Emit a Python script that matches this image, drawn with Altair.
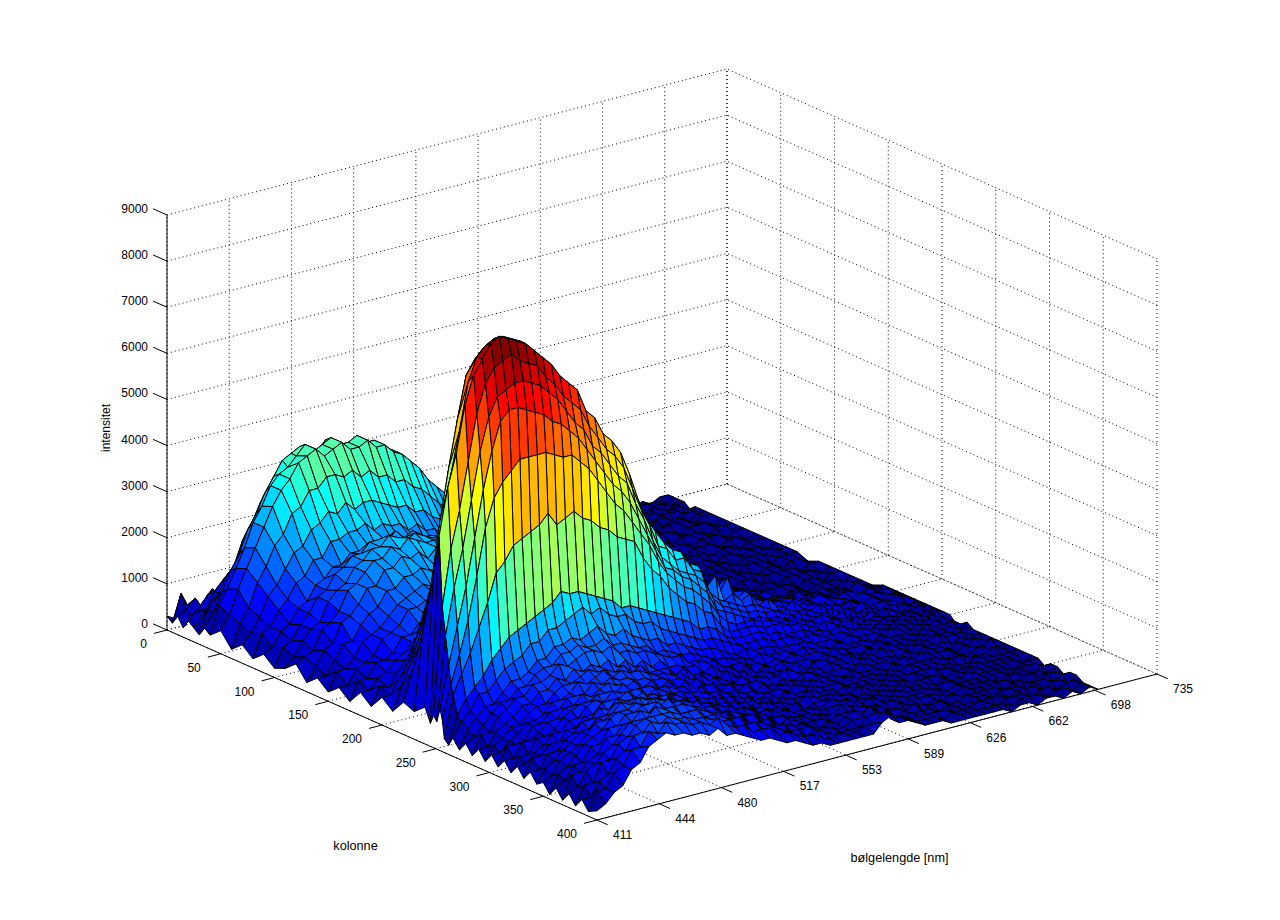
import altair as alt
import numpy as np
import pandas as pd

wave = list(range(411, 702, 5))
cols = [0,5,10,15,20,25,30,35,40,50,60,70,80,90,100,110,120,130,140,150,160,170,180,190,200,210,220,230,240,
        245,248,251,254,256,258,262,266,272,278,284,290,296,302,308,314,320,326,332,338,344,350,356,362,368,
        374,380,386,392,400]

# intensity in hundreds of counts, one list per column (kolonne), one value per wavelength
c000=[3,2,4,5,3, 5,6,4,6,7, 5,6,4,5,6, 4,5,3,4,3, 4,2,3,3,2, 3,2,2,1,2, 2,1,1,2,1, 1,0,1,1,0, 1,1,0,1,1, 0,1,1,0,1, 1,0,1,1,0, 1,0,1,1]
c005=[2,8,4,3,6, 4,7,5,7,5, 6,4,6,5,4, 5,3,4,4,2, 3,3,2,3,2, 2,1,2,2,1, 1,2,1,1,0, 1,1,0,1,1, 0,1,1,1,0, 1,1,0,1,1, 0,1,1,0,1, 1,1,0,1]
c010=[4,5,7,4,8, 6,8,7,10,8, 9,7,9,8,7, 6,7,5,6,5, 5,4,4,3,4, 3,2,3,2,2, 2,1,2,1,1, 1,1,1,0,1, 1,0,1,1,1, 0,1,1,0,1, 1,0,1,1,0, 1,1,0,1]
c015=[2,4,6,8,6, 10,10,13,12,15, 14,16,14,15,13, 14,12,11,12,10, 9,9,8,8,6, 6,5,5,4,4, 3,3,3,2,2, 2,1,1,1,1, 1,0,1,1,1, 1,0,1,1,0, 1,1,1,0,1, 1,0,1,1]
c020=[4,6,5,9,11, 12,15,16,19,20, 23,22,24,22,23, 21,21,19,19,18, 16,16,14,13,12, 11,9,9,8,7, 6,5,4,4,3, 3,2,2,2,1, 1,1,1,1,1, 0,1,1,1,0, 1,1,0,1,1, 0,1,1,0]
c025=[3,5,8,9,13, 15,19,22,26,27, 30,30,31,30,31, 30,30,28,27,26, 25,23,22,19,18, 15,14,13,11,10, 9,8,7,5,4, 4,3,3,2,2, 1,2,1,1,1, 1,0,1,1,1, 0,1,1,0,1, 1,1,0,1]
c030=[2,7,9,13,15, 20,23,27,30,33, 34,35,36,35,35, 35,35,34,34,31, 30,29,27,24,22, 19,18,16,14,13, 11,10,8,6,5, 4,4,3,2,2, 2,1,2,1,1, 1,1,1,0,1, 1,1,0,1,1, 0,1,1,1]
c035=[4,7,11,15,18, 23,26,30,33,36, 37,38,37,36,38, 36,36,36,35,34, 33,32,30,27,24, 22,20,18,16,14, 12,11,9,7,6, 5,4,3,3,2, 2,2,1,1,1, 1,1,0,1,1, 1,1,1,0,1, 1,0,1,1]
c040=[3,9,12,16,20, 25,28,32,34,35, 37,39,37,38,39, 37,37,38,36,36, 34,33,31,29,26, 24,22,20,18,16, 14,12,10,8,7, 5,4,4,3,3, 2,2,2,1,1, 1,1,1,1,0, 1,1,0,1,1, 1,0,1,1]
c050=[5,8,13,17,21, 25,29,32,34,37, 38,39,37,38,39, 37,37,38,36,36, 34,33,31,29,26, 24,22,20,17,16, 14,12,10,8,6, 5,4,4,3,2, 2,2,1,2,1, 1,1,1,0,1, 1,1,1,0,1, 1,1,0,1]
c060=[2,7,10,15,18, 22,24,28,29,32, 32,34,34,33,34, 32,33,31,31,29, 29,27,26,24,22, 20,18,16,15,13, 12,11,9,7,6, 5,4,3,3,2, 2,2,1,1,1, 1,1,0,1,1, 1,0,1,1,1, 0,1,1,1]
c070=[4,6,9,13,15, 18,21,22,25,26, 28,27,29,27,28, 28,27,26,25,25, 23,23,21,20,18, 17,15,14,12,11, 10,9,7,6,5, 4,3,3,2,2, 2,1,2,1,1, 1,1,1,0,1, 1,1,0,1,1, 1,0,1,1]
c080=[2,7,8,11,13, 16,17,20,20,23, 23,24,24,25,23, 24,23,23,21,22, 20,20,18,17,15, 14,13,12,10,10, 9,8,6,5,4, 4,3,2,2,2, 1,2,1,1,1, 1,0,1,1,1, 0,1,1,1,0, 1,1,0,1]
c090=[4,5,8,9,12, 13,16,17,19,19, 21,21,22,21,22, 21,20,21,19,18, 18,17,15,15,13, 12,12,10,9,9, 7,7,5,5,4, 3,3,2,2,1, 2,1,1,1,1, 1,1,0,1,1, 1,1,0,1,1, 0,1,1,1]
c100=[2,6,7,10,12, 15,16,19,20,22, 22,24,24,23,25, 23,24,22,22,20, 19,19,17,16,14, 13,12,11,9,9, 8,7,6,5,4, 3,3,2,2,2, 1,1,1,2,1, 1,0,1,1,1, 1,0,1,1,0, 1,1,0,1]
c110=[3,5,8,10,11, 15,17,18,21,22, 24,24,26,25,24, 25,24,23,23,21, 20,20,18,16,15, 14,12,12,10,10, 8,7,6,5,4, 4,3,3,2,2, 1,2,1,1,1, 1,1,1,0,1, 1,1,0,1,1, 1,0,1,1]
c120=[5,6,7,11,12, 14,18,19,21,23, 23,25,24,26,25, 24,24,24,22,22, 20,19,18,17,15, 13,13,11,11,9, 8,8,6,5,5, 4,3,2,3,2, 2,1,1,1,1, 1,1,0,1,1, 1,0,1,1,1, 0,1,1,1]
c130=[2,5,8,9,13, 14,16,19,19,22, 22,24,23,24,22, 24,22,22,20,21, 18,18,16,15,13, 13,11,10,9,9, 7,7,5,5,4, 4,3,2,2,2, 1,1,2,1,1, 1,0,1,1,1, 1,1,0,1,1, 0,1,1,0]
c140=[4,4,7,10,10, 13,15,16,19,19, 21,21,22,21,21, 21,20,20,19,18, 17,16,15,14,13, 11,11,9,9,8, 7,6,5,4,4, 3,3,2,2,2, 1,1,1,1,1, 1,1,1,0,1, 1,0,1,1,1, 1,0,1,1]
c150=[2,6,6,8,11, 12,13,15,17,18, 19,20,19,21,19, 20,19,18,18,17, 15,15,14,12,12, 11,10,9,8,7, 6,6,4,4,3, 3,2,2,1,2, 1,1,1,1,0, 1,1,1,1,0, 1,1,0,1,1, 1,1,0,1]
c160=[4,4,7,8,9, 12,13,14,17,17, 18,19,19,18,19, 18,18,17,16,16, 14,14,13,12,10, 10,9,8,7,7, 6,5,4,4,3, 3,2,2,1,1, 2,1,1,0,1, 1,1,1,0,1, 1,1,1,0,1, 1,0,1,1]
c170=[2,6,6,9,9, 10,13,13,15,16, 17,18,17,18,17, 17,16,16,15,14, 14,12,12,10,10, 9,8,7,7,6, 5,5,4,3,3, 3,2,2,2,1, 1,1,1,1,1, 0,1,1,1,1, 0,1,1,0,1, 1,1,0,1]
c180=[5,5,7,8,10, 11,13,15,17,19, 20,21,21,22,21, 20,20,19,18,17, 16,15,14,13,12, 10,10,9,8,7, 6,5,4,4,3, 2,2,2,1,2, 1,1,0,1,1, 1,1,0,1,2, 1,1,1,0,1, 1,2,1,1]
c190=[3,7,6,9,11, 14,17,21,25,29, 30,32,33,34,32, 32,30,30,28,27, 25,24,22,20,18, 16,14,13,12,10, 9,8,6,5,4, 3,3,2,2,2, 2,1,2,1,1, 2,1,1,1,2, 1,1,1,2,1, 1,1,1,1]
c200=[6,6,9,12,17, 23,28,36,41,46, 48,49,50,50,50, 49,48,47,45,44, 42,40,37,34,29, 26,23,22,19,18, 16,14,13,12,11, 12,11,11,10,9, 9,8,7,7,6, 6,5,5,6,4, 4,5,3,4,3, 4,3,2,2]
c210=[4,9,13,18,25, 33,42,50,57,62, 66,67,68,67,67, 65,63,61,59,56, 53,51,47,43,37, 33,29,28,25,24, 21,20,16,15,14, 13,13,12,11,10, 10,9,8,9,7, 7,6,7,5,6, 5,4,5,4,3, 4,3,3,2]
c220=[7,13,19,28,39, 49,59,69,74,76, 77,77,77,76,74, 72,70,67,63,60, 56,54,50,46,39, 35,31,30,27,26, 23,22,18,17,14, 14,13,13,12,11, 11,10,9,9,8, 8,7,6,7,6, 5,6,4,5,4, 4,3,3,2]
c230=[6,23,33,46,57, 67,76,79,81,81, 81,80,79,76,74, 71,69,66,61,59, 55,54,50,46,40, 36,32,31,28,27, 24,23,19,17,15, 16,13,14,12,11, 11,10,10,8,9, 7,7,6,7,5, 6,5,4,5,4, 3,4,3,2]
c240=[8,36,47,57,66, 76,81,83,84,84, 83,82,80,78,75, 72,70,68,63,60, 57,55,52,47,41, 37,33,31,28,28, 25,24,20,18,16, 19,14,15,13,12, 11,11,10,9,9, 8,8,7,6,7, 6,4,5,5,3, 4,3,3,2]
c245=[5,45,55,62,72, 78,81,84,85,84, 83,82,80,78,76, 73,71,69,64,62, 58,56,53,48,42, 37,34,31,29,28, 25,24,19,21,15, 16,14,15,12,13, 11,10,11,9,8, 9,7,8,6,6, 7,5,4,5,4, 4,3,3,2]
c248=[7,30,42,50,60, 70,76,79,80,81, 79,78,77,74,72, 69,67,65,61,58, 55,53,50,45,40, 36,31,30,27,27, 24,23,18,16,15, 14,13,13,12,11, 10,10,9,9,8, 7,8,6,7,5, 6,4,5,4,3, 4,3,2,2]
c251=[6,24,34,42,52, 62,69,73,74,75, 75,74,73,71,69, 66,63,61,57,55, 52,49,47,42,38, 33,29,27,25,24, 23,21,17,15,14, 13,12,12,11,11, 10,9,9,8,7, 8,6,7,5,6, 5,4,5,4,3, 3,4,2,2]
c254=[9,18,26,34,44, 54,62,68,70,70, 69,68,67,65,64, 62,60,57,54,51, 48,46,43,39,35, 31,27,26,24,23, 21,19,15,14,13, 12,11,11,10,10, 9,9,8,7,8, 7,6,6,5,5, 6,4,4,3,4, 3,3,2,2]
c256=[7,14,20,27,36, 46,52,55,57,59, 59,59,59,58,57, 57,55,53,50,47, 44,42,39,36,33, 29,26,24,22,21, 19,17,14,12,11, 11,11,10,10,9, 9,8,8,7,6, 7,6,5,6,4, 5,4,4,3,4, 3,2,3,2]
c258=[3,12,16,20,25, 30,36,38,41,42, 43,44,46,43,44, 45,43,42,40,39, 37,36,35,31,28, 26,23,21,19,18, 16,15,12,10,10, 10,10,9,9,9, 8,8,7,6,7, 6,5,6,4,5, 4,4,3,4,3, 3,2,3,2]
c262=[2,8,11,13,15, 18,20,22,23,24, 25,26,27,29,28, 28,27,26,25,24, 22,22,21,20,19, 18,17,16,15,13, 13,12,10,9,9, 9,9,8,8,7, 7,7,6,6,5, 6,5,4,5,4, 4,3,4,3,3, 2,3,2,2]
c266=[4,7,9,12,12, 14,16,17,18,20, 20,22,22,23,24, 25,23,24,22,21, 21,19,18,18,16, 15,14,13,12,11, 11,10,9,8,8, 8,8,7,7,7, 6,6,6,5,5, 5,4,5,4,4, 3,4,3,3,2, 3,2,2,1]
c272=[2,6,8,10,10, 12,14,14,15,17, 17,19,19,20,19, 20,21,19,18,19, 17,16,15,15,13, 13,12,11,10,10, 9,8,7,8,7, 7,7,6,6,6, 6,5,5,5,4, 5,4,4,4,3, 4,3,3,2,3, 2,2,2,1]
c278=[4,5,7,9,11, 11,13,13,15,16, 16,18,18,19,18, 18,19,17,17,16, 15,15,13,13,12, 11,11,10,9,8, 8,7,7,6,7, 6,6,6,5,6, 5,5,4,5,4, 4,4,3,4,3, 3,3,2,3,2, 2,2,1,2]
c284=[2,6,6,9,10, 12,12,14,14,15, 17,16,17,18,18, 17,18,16,16,15, 15,14,13,12,12, 10,10,9,9,7, 7,7,6,6,5, 6,5,6,5,5, 5,4,5,4,4, 4,3,4,3,3, 3,2,3,2,2, 2,1,2,1]
c290=[4,4,7,8,9, 11,11,13,13,15, 14,16,15,16,15, 16,14,15,13,14, 12,13,11,11,10, 10,8,9,7,8, 6,7,5,6,5, 6,5,5,5,4, 5,4,4,4,3, 4,3,4,3,3, 2,3,2,3,2, 2,2,1,1]
c296=[2,5,6,8,8, 10,11,11,13,14, 14,15,16,15,15, 14,15,13,14,12, 12,12,10,11,9, 9,8,7,8,6, 7,5,6,5,5, 5,6,4,5,5, 4,4,5,3,4, 3,4,3,3,2, 3,2,2,2,1, 2,1,2,1]
c302=[4,4,6,7,9, 9,10,12,12,13, 15,14,15,16,14, 15,14,14,13,12, 12,11,11,9,10, 8,8,7,6,7, 5,6,5,5,6, 5,4,5,4,5, 4,4,3,4,3, 3,3,2,3,2, 3,2,2,1,2, 1,2,1,1]
c308=[2,6,6,6,9, 9,11,11,13,13, 13,15,14,15,14, 14,13,13,12,12, 11,11,9,10,8, 8,7,7,6,6, 6,5,4,5,4, 5,5,4,4,4, 4,3,4,3,3, 3,2,3,2,3, 2,2,2,1,2, 1,1,2,1]
c314=[4,4,7,7,8, 10,10,12,12,14, 13,14,15,14,13, 14,12,13,11,12, 10,11,9,9,9, 7,8,6,7,5, 6,4,5,4,5, 4,5,4,4,3, 4,3,3,3,2, 3,2,2,2,2, 2,1,2,1,1, 2,1,1,1]
c320=[2,5,5,8,8, 9,11,12,13,13, 14,14,13,15,13, 13,13,12,12,11, 11,9,10,8,8, 7,7,6,6,5, 5,5,4,5,4, 5,4,4,3,4, 3,3,3,2,3, 2,3,2,2,2, 1,2,2,1,1, 1,2,1,1]
c326=[4,4,6,7,9, 9,11,11,13,14, 13,15,14,14,14, 12,13,12,11,11, 10,10,9,9,7, 7,6,6,5,6, 4,5,4,4,5, 4,4,4,3,3, 3,3,2,3,2, 2,2,2,2,1, 2,1,1,2,1, 1,1,1,1]
c332=[2,6,6,8,8, 10,10,12,12,14, 14,14,15,13,13, 13,12,12,11,10, 10,9,9,8,8, 6,7,5,6,4, 5,4,4,5,4, 4,3,4,3,3, 3,2,3,2,2, 3,2,1,2,2, 1,1,2,1,1, 1,1,1,1]
c338=[4,4,7,7,9, 10,12,12,14,13, 15,14,14,15,13, 13,13,11,11,11, 9,10,8,8,7, 7,5,6,5,5, 4,4,5,4,4, 5,3,3,4,3, 2,3,2,3,2, 2,2,2,1,2, 1,2,1,1,1, 1,1,0,1]
c344=[2,5,6,8,9, 11,11,13,13,15, 14,15,15,14,14, 14,12,12,11,10, 10,9,9,7,7, 6,6,5,5,4, 5,3,4,4,5, 4,4,3,3,2, 3,2,3,2,2, 2,1,2,1,1, 2,1,1,1,1, 0,1,1,1]
c350=[3,4,7,8,9, 11,13,13,14,16, 15,16,15,15,14, 13,13,12,11,11, 10,9,8,8,7, 6,6,5,5,4, 4,4,3,5,4, 4,4,3,3,3, 2,3,2,2,2, 1,2,2,1,1, 1,1,1,1,0, 1,1,1,0]
c356=[1,5,6,8,10, 11,12,14,15,15, 16,15,16,15,14, 14,12,13,11,11, 9,10,8,7,7, 6,5,5,4,4, 4,3,4,4,5, 4,3,4,3,2, 3,2,2,2,1, 2,1,2,1,1, 1,1,0,1,1, 1,0,1,1]
c362=[3,4,7,7,10, 10,13,13,15,15, 16,16,15,16,14, 13,13,12,12,10, 10,9,8,8,6, 6,6,4,5,4, 3,4,3,5,4, 5,3,3,3,3, 2,2,2,2,2, 1,1,2,1,1, 1,1,1,0,1, 1,1,0,1]
c368=[1,6,6,8,9, 12,12,14,14,16, 15,17,15,15,15, 14,12,12,11,11, 9,9,9,7,7, 5,6,5,4,4, 4,3,4,4,5, 4,4,3,2,3, 2,2,1,2,1, 2,1,1,1,1, 1,0,1,1,0, 1,1,1,0]
c374=[3,4,7,8,10, 11,13,15,15,15, 17,16,16,14,14, 14,13,11,12,10, 10,8,8,8,6, 6,5,5,4,3, 4,3,4,5,4, 5,3,3,3,2, 3,1,2,2,1, 1,2,1,1,0, 1,1,1,0,1, 1,0,1,1]
c380=[1,5,5,9,9, 12,13,15,16,16, 16,16,15,15,15, 13,13,12,11,11, 9,9,8,7,7, 5,5,5,3,4, 3,3,4,4,6, 4,4,2,3,2, 2,2,1,2,1, 1,1,1,1,1, 0,1,1,1,0, 1,1,0,1]
c386=[3,3,6,7,10, 11,14,14,16,15, 16,15,15,14,14, 13,12,12,10,10, 10,8,8,7,6, 6,4,5,4,3, 3,3,3,5,5, 5,3,3,2,2, 2,2,2,1,1, 1,2,1,0,1, 1,1,0,1,1, 0,1,1,0]
c392=[1,5,5,8,9, 12,12,15,14,16, 15,15,14,14,13, 14,12,11,11,9, 9,9,7,7,6, 5,5,4,3,4, 3,3,4,4,6, 4,4,3,2,2, 2,1,2,1,1, 1,1,1,1,0, 1,1,1,0,1, 1,0,1,0]
c400=[2,3,5,6,9, 10,13,14,15,14, 14,13,13,12,13, 11,11,10,9,8, 8,7,6,6,5, 4,4,3,3,3, 3,3,3,5,6, 4,4,3,2,2, 2,1,1,1,1, 1,1,1,0,1, 1,0,1,1,0, 1,0,1,0]

rows = [c000,c005,c010,c015,c020,c025,c030,c035,c040,c050,c060,c070,c080,c090,c100,c110,c120,c130,c140,c150,
        c160,c170,c180,c190,c200,c210,c220,c230,c240,c245,c248,c251,c254,c256,c258,c262,c266,c272,c278,c284,
        c290,c296,c302,c308,c314,c320,c326,c332,c338,c344,c350,c356,c362,c368,c374,c380,c386,c392,c400]

col_ticks = [0,50,100,150,200,250,300,350,400]
wave_ticks = [411,447,483,519,555,591,627,663,699,735]
wave_labels = ["411","444","480","517","553","589","626","662","698","735"]
z_ticks = [0,1000,2000,3000,4000,5000,6000,7000,8000,9000]

F = np.array([597.0, 820.0])
L = np.array([167.0, 630.0])
R = np.array([1157.0, 674.0])
Z_PX = 415.0

def P(c, w, z=0):
    p = F + (400 - c) / 400 * (L - F) + (w - 411) / 324 * (R - F)
    return [float(p[0]), float(p[1] - z / 9000 * Z_PX)]

def line(*pts):
    return {"type": "Feature", "properties": {},
            "geometry": {"type": "LineString", "coordinates": list(pts)}}

WMIN, WMAX = 411, 735
grid = []
for w in wave_ticks:
    grid.append(line(P(0, w), P(400, w)))
    grid.append(line(P(0, w), P(0, w, 9000)))
for c in col_ticks:
    grid.append(line(P(c, WMIN), P(c, WMAX)))
    grid.append(line(P(c, WMAX), P(c, WMAX, 9000)))
for z in z_ticks:
    grid.append(line(P(0, WMIN, z), P(0, WMAX, z), P(400, WMAX, z)))

axes = [line(P(0, WMIN), P(0, WMIN, 9000)),
        line(P(0, WMIN), P(400, WMIN)),
        line(P(400, WMIN), P(400, WMAX))]
for z in z_ticks:
    axes.append(line(P(0, WMIN, z), P(-13, WMIN, z)))
for c in col_ticks:
    axes.append(line(P(c, WMIN), P(c, WMIN - 7.5)))
for w in wave_ticks:
    axes.append(line(P(400, w), P(410, w)))

quads = []
for i in range(len(cols) - 1):
    a, b = rows[i], rows[i + 1]
    n = min(len(a), len(b), len(wave))
    for j in range(n - 2, -1, -1):
        c0, c1, w0, w1 = cols[i], cols[i + 1], wave[j], wave[j + 1]
        ring = [P(c0, w0, a[j] * 100), P(c0, w1, a[j + 1] * 100),
                P(c1, w1, b[j + 1] * 100), P(c1, w0, b[j] * 100), P(c0, w0, a[j] * 100)]
        quads.append({"type": "Feature", "properties": {"z": a[j] * 100},
                      "geometry": {"type": "Polygon", "coordinates": [ring]}})

def jet(n=64):
    out = []
    for k in range(n):
        t = (k + 0.5) / n
        r = np.clip(min(4 * t - 1.5, -4 * t + 4.5), 0, 1)
        g = np.clip(min(4 * t - 0.5, -4 * t + 3.5), 0, 1)
        b = np.clip(min(4 * t + 0.5, -4 * t + 2.5), 0, 1)
        out.append("#%02x%02x%02x" % (int(r * 255), int(g * 255), int(b * 255)))
    return out

FONT = "Liberation Sans"
grid_layer = alt.Chart(alt.Data(values=grid)).mark_geoshape(
    filled=False, stroke="black", strokeWidth=1, strokeDash=[1, 3])
surface_layer = alt.Chart(alt.Data(values=quads)).mark_geoshape(
    stroke="black", strokeWidth=1).encode(
    fill=alt.Fill("properties.z:Q", legend=None,
                  scale=alt.Scale(type="quantize", domain=[-100, 8500], range=jet())))
axes_layer = alt.Chart(alt.Data(values=axes)).mark_geoshape(
    filled=False, stroke="black", strokeWidth=1)

def pts(items):
    return pd.DataFrame(items, columns=["px", "py", "label"])

right_df = pts([[P(0, WMIN, z)[0] - 19, P(0, WMIN, z)[1] - 6, str(z)] for z in z_ticks]
               + [[P(c, WMIN)[0] - 20, P(c, WMIN)[1] + 14, str(c)] for c in col_ticks])
left_df = pts([[P(400, w)[0] + 16, P(400, w)[1] + 15, t] for w, t in zip(wave_ticks, wave_labels)])
center_df = pts([[355.5, 846, "kolonne"], [899.5, 858, "bølgelengde [nm]"]])
rot_df = pts([[106, 428, "intensitet"]])

def text(df, size=12, **kw):
    return alt.Chart(df).mark_text(font=FONT, fontSize=size, color="black", baseline="middle", **kw).encode(
        longitude="px:Q", latitude="py:Q", text="label:N")

chart = alt.layer(
    grid_layer, surface_layer, axes_layer,
    text(right_df, align="right"), text(left_df, align="left"),
    text(center_df, size=12.7, align="center"), text(rot_df, align="center", angle=270),
).project(type="identity", scale=1, translate=[-8, -8]).properties(
    width=1264, height=900, padding=0, background="white",
    autosize=alt.AutoSizeParams(type="none"),
).configure_view(stroke=None)

chart.save("out.html", embed_options={"renderer": "svg", "actions": False})
